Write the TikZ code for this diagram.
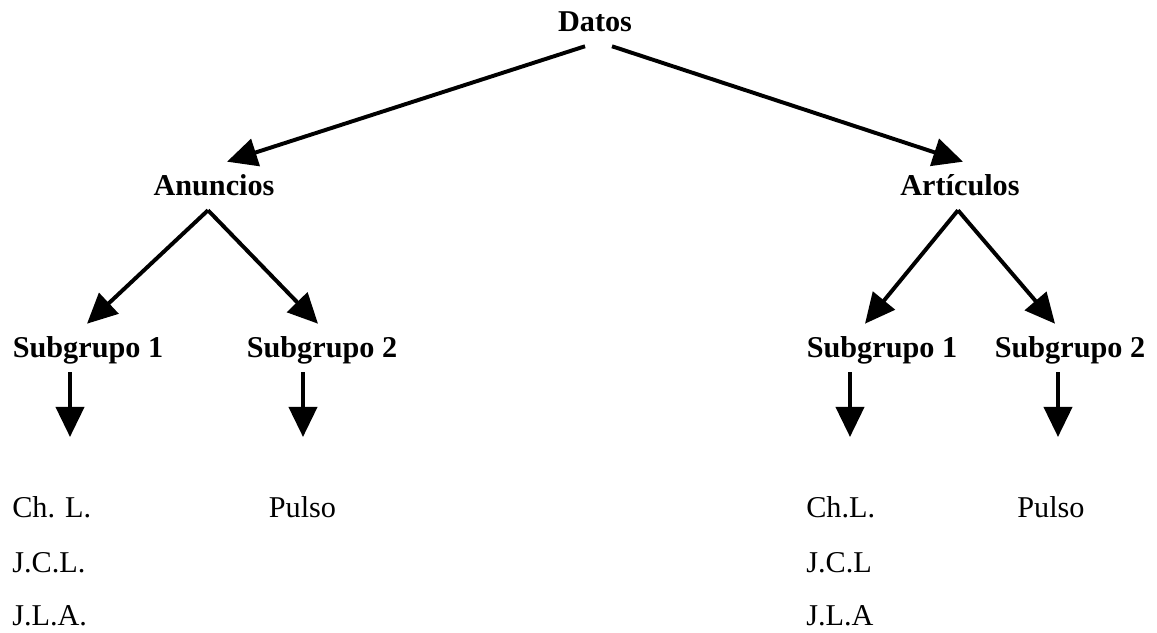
\documentclass[tikz,border=0pt]{standalone}
\usepackage{fontspec}
\setmainfont{Liberation Serif}
\usetikzlibrary{arrows.meta}

\begin{document}
\begin{tikzpicture}[
  nivel/.style={font=\fontsize{21.5}{26}\selectfont\bfseries, anchor=base, inner xsep=0pt, inner ysep=0.35cm, text height=0.5cm, text depth=0cm},
  hoja/.style={font=\fontsize{21.5}{26}\selectfont, anchor=base west, inner sep=0pt},
  flecha/.style={-{Triangle[length=0.75cm, width=0.7cm]}, line width=2.8pt}
]
\useasboundingbox (0,0) rectangle (28.925,15.825);

% niveles
\node[nivel] (datos) at (14.875,15.025) {Datos};
\node[nivel] (anuncios) at (5.35,10.925) {Anuncios};
\node[nivel] (articulos) at (24,10.925) {Artículos};
\node[nivel] (subA1) at (2.2,6.875) {Subgrupo 1};
\node[nivel] (subA2) at (8.05,6.875) {Subgrupo 2};
\node[nivel] (subB1) at (22.05,6.875) {Subgrupo 1};
\node[nivel] (subB2) at (26.75,6.875) {Subgrupo 2};

% hojas
\node[hoja] (chlA) at (0.3,2.875) {Ch. L.};
\node[hoja] (jclA) at (0.3,1.5) {J.C.L.};
\node[hoja] (jlaA) at (0.3,0.175) {J.L.A.};
\node[hoja, anchor=base] (pulsoA) at (7.5625,2.875) {Pulso};
\node[hoja] (chlB) at (20.15,2.875) {Ch.L.};
\node[hoja] (jclB) at (20.15,1.5) {J.C.L};
\node[hoja] (jlaB) at (20.15,0.175) {J.L.A};
\node[hoja, anchor=base] (pulsoB) at (26.275,2.875) {Pulso};

% puntas libres
\coordinate (finA1) at (1.75,4.9);
\coordinate (finA2) at (7.575,4.9);
\coordinate (finB1) at (21.25,4.9);
\coordinate (finB2) at (26.45,4.9);

\draw[flecha] ([xshift=-0.25cm]datos.south) -- ([xshift=0.325cm]anuncios.north);
\draw[flecha] ([xshift=0.425cm]datos.south) -- ([xshift=0.075cm]articulos.north);

\draw[flecha] ([xshift=-0.15cm]anuncios.south) -- ([xshift=-0.025cm]subA1.north);
\draw[flecha] ([xshift=-0.15cm]anuncios.south) -- ([xshift=-0.1cm]subA2.north);
\draw[flecha] ([xshift=-0.05cm]articulos.south) -- ([xshift=-0.425cm]subB1.north);
\draw[flecha] ([xshift=-0.05cm]articulos.south) -- ([xshift=-0.375cm]subB2.north);

\foreach \s/\f in {subA1/finA1, subA2/finA2, subB1/finB1, subB2/finB2}
  \draw[flecha] (\f |- \s.south) -- (\f);
\end{tikzpicture}
\end{document}
